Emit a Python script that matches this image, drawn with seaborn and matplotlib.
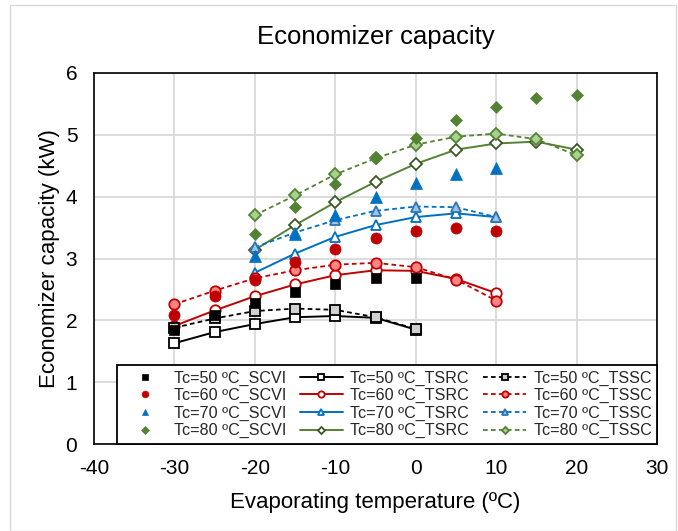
import matplotlib
matplotlib.use("Agg")
import matplotlib.pyplot as plt
import seaborn as sns
import pandas as pd
from matplotlib.patches import Rectangle

sns.set_theme(style="white")
plt.rcParams['font.family'] = ['Liberation Sans', 'DejaVu Sans']

# ---------------- data ----------------
temps_50 = [-30, -25, -20, -15, -10, -5, 0]
temps_60 = [-30, -25, -20, -15, -10, -5, 0, 5, 10]
temps_70 = [-20, -15, -10, -5, 0, 5, 10]
temps_80 = [-20, -15, -10, -5, 0, 5, 10, 15, 20]

scvi_50 = [1.85, 2.08, 2.28, 2.46, 2.59, 2.68, 2.68]
tsrc_50 = [1.63, 1.81, 1.94, 2.05, 2.07, 2.04, 1.85]
tssc_50 = [1.88, 2.03, 2.15, 2.19, 2.17, 2.05, 1.86]

scvi_60 = [2.08, 2.39, 2.66, 2.94, 3.16, 3.33, 3.45, 3.49, 3.45]
tsrc_60 = [1.91, 2.16, 2.39, 2.58, 2.73, 2.81, 2.80, 2.67, 2.44]
tssc_60 = [2.26, 2.48, 2.68, 2.81, 2.90, 2.93, 2.86, 2.66, 2.32]

scvi_70 = [3.04, 3.40, 3.71, 4.00, 4.22, 4.37, 4.47]
tsrc_70 = [2.77, 3.08, 3.35, 3.54, 3.67, 3.73, 3.67]
tssc_70 = [3.18, 3.42, 3.62, 3.77, 3.84, 3.83, 3.67]

scvi_80 = [3.40, 3.83, 4.21, 4.62, 4.95, 5.24, 5.45, 5.59, 5.64]
tsrc_80 = [3.14, 3.54, 3.91, 4.24, 4.53, 4.76, 4.86, 4.89, 4.76]
tssc_80 = [3.70, 4.02, 4.36, 4.62, 4.84, 4.97, 5.02, 4.93, 4.67]

cond_temps = ["50", "60", "70", "80"]
x_ticks = [-40, -30, -20, -10, 0, 10, 20, 30]
y_ticks = [0, 1, 2, 3, 4, 5, 6]

title = "Economizer capacity"
xlabel = "Evaporating temperature (ºC)"
ylabel = "Economizer capacity (kW)"

# ---------------- styles ----------------
groups = [
    dict(t=temps_50, scvi=scvi_50, tsrc=tsrc_50, tssc=tssc_50, marker="s",
         main="#000000", edge_rc="#000000", fill_sc="#D0D0D0", edge_sc="#000000", ms=7),
    dict(t=temps_60, scvi=scvi_60, tsrc=tsrc_60, tssc=tssc_60, marker="o",
         main="#C00000", edge_rc="#C00000", fill_sc="#FF8585", edge_sc="#C00000", ms=7.5),
    dict(t=temps_70, scvi=scvi_70, tsrc=tsrc_70, tssc=tssc_70, marker="^",
         main="#0070C0", edge_rc="#0070C0", fill_sc="#9DC3E6", edge_sc="#2E75B6", ms=7.5),
    dict(t=temps_80, scvi=scvi_80, tsrc=tsrc_80, tssc=tssc_80, marker="D",
         main="#548235", edge_rc="#385723", fill_sc="#A9D18E", edge_sc="#548235", ms=6),
]

fig = plt.figure(figsize=(6.78, 5.31), dpi=100)
ax = fig.add_axes([94 / 678, 1 - 444 / 531, (657 - 94) / 678, (444 - 73) / 531])

# outer chart border
fig.patches.append(Rectangle((10 / 678, 0.0), (676 - 10) / 678, 1 - 5 / 531,
                             transform=fig.transFigure, fill=False,
                             edgecolor="#D9D9D9", linewidth=1.0, zorder=0))

handles = {}
for i, (g, tc) in enumerate(zip(groups, cond_temps)):
    # TSRC (solid line, open markers)
    sns.lineplot(x=g["t"], y=g["tsrc"], ax=ax, sort=False, estimator=None,
                 color=g["main"], linewidth=1.4, marker=g["marker"],
                 markersize=g["ms"], markerfacecolor="white",
                 markeredgecolor=g["edge_rc"], markeredgewidth=1.3,
                 zorder=3 + i * 0.1)
    handles[("TSRC", i)] = ax.lines[-1]
    # TSSC (dashed line, light markers)
    sns.lineplot(x=g["t"], y=g["tssc"], ax=ax, sort=False, estimator=None,
                 color=g["main"], linewidth=1.3, marker=g["marker"],
                 markersize=g["ms"], markerfacecolor=g["fill_sc"],
                 markeredgecolor=g["edge_sc"], markeredgewidth=1.3,
                 dashes=False, zorder=4 + i * 0.1)
    ln = ax.lines[-1]
    ln.set_linestyle((0, (2.6, 1.8)))
    handles[("TSSC", i)] = ln

for i, (g, tc) in enumerate(zip(groups, cond_temps)):
    sns.lineplot(x=g["t"], y=g["scvi"], ax=ax, sort=False, estimator=None,
                 linestyle="none", marker=g["marker"], markersize=g["ms"] + 0.5,
                 markerfacecolor=g["main"], markeredgecolor=g["main"],
                 markeredgewidth=0.5, color=g["main"], zorder=6 + i * 0.1)
    handles[("SCVI", i)] = ax.lines[-1]

leg_handles, leg_labels = [], []
for kind in ["SCVI", "TSRC", "TSSC"]:
    for i, tc in enumerate(cond_temps):
        leg_handles.append(handles[(kind, i)])
        leg_labels.append(f"Tc={tc} ºC_{kind}")

leg = ax.legend(leg_handles, leg_labels, ncol=3, loc="lower right",
                bbox_to_anchor=(1.0, 0.0), borderaxespad=0.0, fontsize=11.6,
                frameon=True, fancybox=False, framealpha=1.0, edgecolor="#000000",
                markerscale=0.6, handlelength=2.7, handletextpad=0.45,
                columnspacing=0.85, labelspacing=0.15, borderpad=0.35)
leg.get_frame().set_linewidth(1.3)
leg.set_zorder(10)

ax.set_xlim(-40, 30)
ax.set_ylim(0, 6)
ax.set_xticks(x_ticks)
ax.set_yticks(y_ticks)
ax.set_xticklabels([str(v) for v in x_ticks])
ax.set_yticklabels([str(v) for v in y_ticks])
ax.tick_params(axis="both", length=0, labelsize=15, colors="#000000")
ax.tick_params(axis="x", pad=11)
ax.tick_params(axis="y", pad=12)
ax.grid(True, color="#D9D9D9", linewidth=1.3)
ax.set_axisbelow(True)
for sp in ax.spines.values():
    sp.set_visible(True)
    sp.set_color("#000000")
    sp.set_linewidth(1.2)

ax.set_title(title, fontsize=18.5, color="#000000", pad=21)
ax.set_xlabel(xlabel, fontsize=16, color="#000000", labelpad=10)
ax.set_ylabel(ylabel, fontsize=16, color="#000000", labelpad=4)

fig.savefig("out.png", dpi=100, facecolor="white")
